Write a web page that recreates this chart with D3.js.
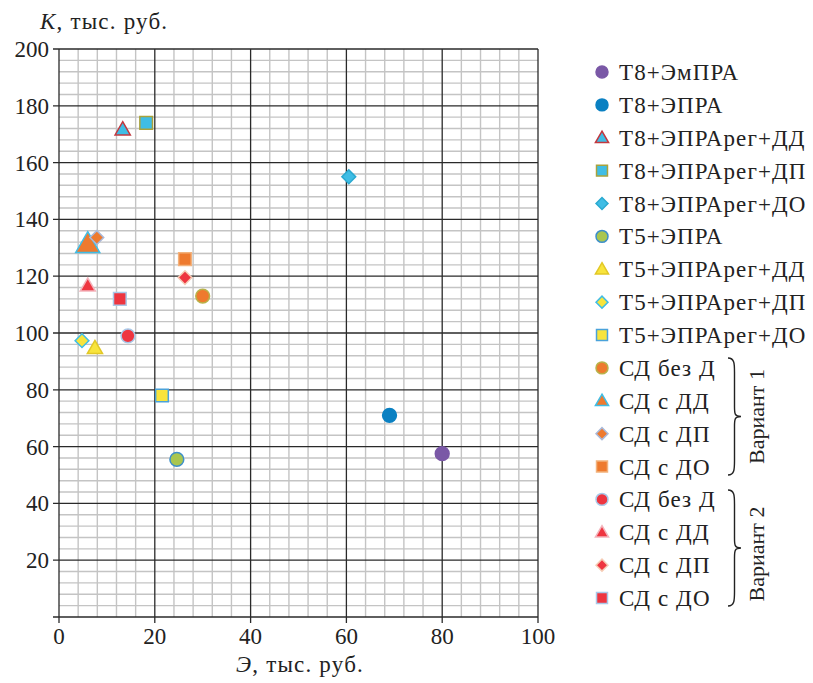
<!DOCTYPE html>
<html>
<head>
<meta charset="utf-8">
<script src="https://cdn.jsdelivr.net/npm/d3@7"></script>
<style>
  body { margin: 0; background: #fff; }
</style>
</head>
<body>
<svg id="chart" width="813" height="683"></svg>
<script>
// данные точек
const names = [
  'Т8+ЭмПРА', 'Т8+ЭПРА', 'Т8+ЭПРАрег+ДД', 'Т8+ЭПРАрег+ДП', 'Т8+ЭПРАрег+ДО',
  'Т5+ЭПРА', 'Т5+ЭПРАрег+ДД', 'Т5+ЭПРАрег+ДП', 'Т5+ЭПРАрег+ДО',
  'СД без Д', 'СД с ДД', 'СД с ДП', 'СД с ДО',
  'СД без Д', 'СД с ДД', 'СД с ДП', 'СД с ДО'
];
const eVals = [80, 69, 13.3, 18.2, 60.5, 24.6, 7.5, 4.8, 21.5, 30, 6, 7.9, 26.3, 14.4, 6, 26.3, 12.7];
const kVals = [57.5, 71, 172, 174, 155, 55.5, 95, 97.3, 78, 113, 131.5, 133.6, 126, 99, 117, 119.5, 112];
const shapes = ['circle', 'circle', 'triangle', 'square', 'diamond',
  'circle', 'triangle', 'diamond', 'square',
  'circle', 'triangle', 'diamond', 'square',
  'circle', 'triangle', 'diamond', 'square'];
const fills = ['#7a58a6', '#0a80c2', '#3fbde5', '#3fbde5', '#3fbde5',
  '#a9c650', '#f8e43c', '#f8e43c', '#f8e43c',
  '#ee7a2e', '#ee7a2e', '#ee7a2e', '#ee7a2e',
  '#ee3540', '#ee3540', '#ee3540', '#ee3540'];
const strokes = ['#7a58a6', '#0a80c2', '#c2383f', '#a9a23c', '#2aa9d0',
  '#3d8fca', '#e2c826', '#3fbde5', '#4aa2da',
  '#b8b24a', '#3fbde5', '#a9b8d8', '#f2b27c',
  '#a9c8e8', '#f3b4bc', '#f6cbb4', '#a9c8e8'];
const big = [false, false, false, false, false, false, false, false, false,
  false, true, false, false, false, false, false, false];

const xTicks = [0, 20, 40, 60, 80, 100];
const yTicks = [20, 40, 60, 80, 100, 120, 140, 160, 180, 200];
const groups = ['Вариант 1', 'Вариант 2'];

const FONT = 'Liberation Serif';
const svg = d3.select('#chart');
const x = d3.scaleLinear().domain([0, 100]).range([59, 538]);
const y = d3.scaleLinear().domain([0, 200]).range([617, 49]);

// сетка
const g = svg.append('g');
g.selectAll('.mx').data(d3.range(0, 101, 4).filter(v => v % 20))
  .join('line').attr('x1', d => x(d)).attr('x2', d => x(d))
  .attr('y1', y(0)).attr('y2', y(200)).attr('stroke', '#c4c4c4').attr('stroke-width', 1.4);
g.selectAll('.my').data(d3.range(0, 201, 4).filter(v => v % 20))
  .join('line').attr('y1', d => y(d)).attr('y2', d => y(d))
  .attr('x1', x(0)).attr('x2', x(100)).attr('stroke', '#c4c4c4').attr('stroke-width', 1.4);
g.selectAll('.Mx').data(xTicks)
  .join('line').attr('x1', d => x(d)).attr('x2', d => x(d))
  .attr('y1', y(0) + 6).attr('y2', y(200)).attr('stroke', '#2a2a2a').attr('stroke-width', 1.3);
g.selectAll('.My').data([0].concat(yTicks))
  .join('line').attr('y1', d => y(d)).attr('y2', d => y(d))
  .attr('x1', x(0) - 6).attr('x2', x(100)).attr('stroke', '#2a2a2a').attr('stroke-width', 1.3);

// подписи осей
svg.selectAll('.xt').data(xTicks).join('text')
  .attr('font-family', FONT)
  .attr('x', d => x(d)).attr('y', 644).attr('text-anchor', 'middle')
  .attr('font-size', 23).attr('fill', '#222').text(d => d);
svg.selectAll('.yt').data(yTicks).join('text')
  .attr('font-family', FONT)
  .attr('x', 49).attr('y', d => y(d) + 8).attr('text-anchor', 'end')
  .attr('font-size', 23).attr('fill', '#222').text(d => d);

const yt = svg.append('text').attr('font-family', FONT).attr('x', 40).attr('y', 29)
  .attr('font-size', 23).attr('letter-spacing', 1.2).attr('fill', '#222');
yt.append('tspan').attr('font-style', 'italic').text('K');
yt.append('tspan').text(', тыс. руб.');
const xtl = svg.append('text').attr('font-family', FONT).attr('x', 300).attr('y', 672).attr('text-anchor', 'middle')
  .attr('font-size', 23).attr('letter-spacing', 1.2).attr('fill', '#222');
xtl.append('tspan').attr('font-style', 'italic').text('Э');
xtl.append('tspan').text(', тыс. руб.');

const symType = { circle: d3.symbolCircle, triangle: d3.symbolTriangle, square: d3.symbolSquare, diamond: d3.symbolSquare };
const symSize = { circle: 150, triangle: 100, square: 160, diamond: 95 };
const sym = (s, k) => d3.symbol().type(symType[s]).size(symSize[s] * k)();

// точки
const pts = d3.range(names.length);
svg.selectAll('.pt').data(pts).join('path')
  .attr('d', i => sym(shapes[i], big[i] ? 2.5 : 1))
  .attr('transform', i => `translate(${x(eVals[i])},${y(kVals[i]) + (shapes[i] === 'triangle' ? 2 : 0)})` + (shapes[i] === 'diamond' ? ' rotate(45)' : ''))
  .attr('fill', i => fills[i]).attr('stroke', i => strokes[i]).attr('stroke-width', 1.5);

// легенда
const ly = d3.scaleLinear().domain([0, 16]).range([72, 598]);
const leg = svg.selectAll('.lg').data(pts).join('g')
  .attr('transform', i => `translate(602,${ly(i)})`);
leg.append('path')
  .attr('d', i => sym(shapes[i], 0.75))
  .attr('transform', i => (shapes[i] === 'triangle' ? 'translate(0,1)' : '') + (shapes[i] === 'diamond' ? ' rotate(45)' : ''))
  .attr('fill', i => fills[i]).attr('stroke', i => strokes[i]).attr('stroke-width', 1.5);
leg.append('text').attr('font-family', FONT).attr('x', 17).attr('y', 8)
  .attr('font-size', 23).attr('letter-spacing', 1.1).attr('fill', '#222')
  .text(i => names[i]);

// фигурные скобки
function brace(top, bot, x0, w) {
  const m = (top + bot) / 2;
  const h = w / 2;
  return `M${x0},${top} C${x0 + h},${top} ${x0 + h},${top + 6} ${x0 + h},${top + 14}` +
    ` L${x0 + h},${m - 10} C${x0 + h},${m - 3} ${x0 + h},${m} ${x0 + w},${m}` +
    ` C${x0 + h},${m} ${x0 + h},${m + 3} ${x0 + h},${m + 10}` +
    ` L${x0 + h},${bot - 14} C${x0 + h},${bot - 6} ${x0 + h},${bot} ${x0},${bot}`;
}
const braceTops = [358, 490];
const braceBots = [475, 606];
groups.forEach((t, k) => {
  svg.append('path').attr('d', brace(braceTops[k], braceBots[k], 728, 13))
    .attr('fill', 'none').attr('stroke', '#222').attr('stroke-width', 1.4);
  const cy = (braceTops[k] + braceBots[k]) / 2 + (k ? 6 : 0);
  svg.append('text').attr('font-family', FONT).attr('transform', `translate(764,${cy}) rotate(-90)`)
    .attr('text-anchor', 'middle').attr('font-size', 22).attr('fill', '#222').text(t);
});
</script>
</body>
</html>
